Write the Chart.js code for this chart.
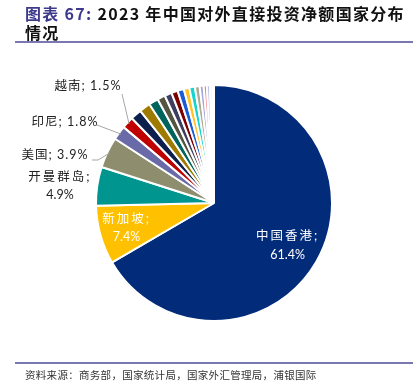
<!DOCTYPE html>
<html>
<head>
<meta charset="utf-8">
<script src="https://cdn.jsdelivr.net/npm/chart.js@4"></script>
<style>
  html, body { margin: 0; padding: 0; background: #fff; }
  body { width: 419px; height: 389px; position: relative; overflow: hidden;
         font-family: "Noto Sans CJK SC", "Noto Sans", sans-serif; }
  #chart { position: absolute; left: 0; top: 0; }
  .title { position: absolute; left: 25px; top: 4px; width: 385px; font-size: 16px; font-weight: bold;
           letter-spacing: 1.3px; line-height: 19px; color: #111; }
  .title .num { color: #3d3a8c; }
  .rule { position: absolute; left: 15px; width: 398px; height: 2px; background: #7a78b0; }
  .source { position: absolute; left: 25px; top: 367px; font-size: 10.5px; color: #333; letter-spacing: 0.3px; }
</style>
</head>
<body>
<canvas id="chart" width="419" height="389"></canvas>
<div class="title"><span class="num">图表 67:</span> 2023 年中国对外直接投资净额国家分布<br>情况</div>
<div class="rule" style="top:41px"></div>
<div class="rule" style="top:362px"></div>
<div class="source">资料来源：商务部，国家统计局，国家外汇管理局，浦银国际</div>

<script>
// ============================================================
// DATA
// ============================================================

const countries = [
  "中国香港", "新加坡", "开曼群岛", "美国", "印尼", "越南",
  "其他1", "其他2", "其他3", "其他4", "其他5", "其他6", "其他7", "其他8",
  "其他9", "其他10", "其他11", "其他12", "其他13", "其他14", "其他15"
];

const shares = [
  61.4, 7.4, 4.9, 3.9, 1.8, 1.5,
  1.4, 1.4, 1.2, 1.0, 0.9, 0.8, 0.8, 0.7,
  0.7, 0.6, 0.5, 0.4, 0.4, 0.3, 0.2
];

const sliceColors = [
  "#022b79", "#ffc000", "#00968f", "#8e8e6e", "#6a6aa8", "#c00000",
  "#0c1f4d", "#9e7a00", "#00645c", "#545441", "#3e3e63", "#7d0000", "#1a5cd8", "#ffc22a",
  "#14d4d0", "#abab95", "#a8a8d8", "#f08080", "#b8c4e8", "#c8c8e8", "#f3ddb0"
];

// labels shown on the chart (index -> text lines)
const labelText = {
  0: ["中国香港;", "61.4%"],
  1: ["新加坡;", "7.4%"],
  2: ["开曼群岛;", "4.9%"],
  3: ["美国; 3.9%"],
  4: ["印尼; 1.8%"],
  5: ["越南; 1.5%"]
};


// ============================================================
// LABEL PLUGIN
// ============================================================

const LABEL_FONT = '12.5px Lato, "Noto Sans CJK SC", sans-serif';

// inside labels sit on the slice's mid angle; outside labels use an anchor
// relative to the pie centre plus an optional leader line to the rim
const labelStyle = {
  0: { inside: true, frac: 0.72, color: "#fff" },
  1: { inside: true, frac: 0.77, color: "#fff" },
  2: { dx: -154, dy: -17, color: "#222" },
  3: { dx: -159, dy: -48, color: "#222", line: [[-122, -43], [-116, -43]] },
  4: { dx: -149, dy: -81, color: "#222", line: [[-117, -78]] },
  5: { dx: -126, dy: -117, color: "#222", line: [[-92, -109]] }
};

const pieLabels = {
  id: "pieLabels",
  afterDatasetsDraw(chart) {
    const ctx = chart.ctx;
    const arcs = chart.getDatasetMeta(0).data;

    ctx.save();
    ctx.font = LABEL_FONT;
    ctx.textAlign = "center";
    ctx.textBaseline = "middle";

    Object.keys(labelText).forEach(k => {
      const i = Number(k);
      const arc = arcs[i];
      const st = labelStyle[i];
      const lines = labelText[i];
      const cx = arc.x, cy = arc.y;
      const mid = (arc.startAngle + arc.endAngle) / 2;

      let tx, ty;
      if (st.inside) {
        const r = arc.outerRadius * st.frac;
        tx = cx + Math.cos(mid) * r;
        ty = cy + Math.sin(mid) * r;
      } else {
        tx = cx + st.dx;
        ty = cy + st.dy;
      }

      if (st.line) {
        const rimR = arc.outerRadius - 2;
        ctx.strokeStyle = "#a6a6a6";
        ctx.lineWidth = 1;
        ctx.beginPath();
        ctx.moveTo(cx + st.line[0][0], cy + st.line[0][1]);
        st.line.slice(1).forEach(p => ctx.lineTo(cx + p[0], cy + p[1]));
        ctx.lineTo(cx + Math.cos(mid) * rimR, cy + Math.sin(mid) * rimR);
        ctx.stroke();
      }

      ctx.fillStyle = st.color;
      const lh = 18.5;
      lines.forEach((t, j) => {
        // Chinese glyphs in the original are set wider than the digits
        ctx.letterSpacing = /[\u4e00-\u9fff]/.test(t) && !/\d/.test(t) ? "2px" : (/\d/.test(t) && /[\u4e00-\u9fff]/.test(t) ? "1px" : "0px");
        ctx.fillText(t, tx, ty + (j - (lines.length - 1) / 2) * lh);
      });
    });

    ctx.restore();
  }
};


// ============================================================
// CHART
// ============================================================

new Chart(document.getElementById("chart").getContext("2d"), {
  type: "pie",
  data: {
    labels: countries,
    datasets: [{
      data: shares,
      backgroundColor: sliceColors,
      borderColor: "#ffffff",
      borderWidth: 2
    }]
  },
  options: {
    responsive: false,
    animation: false,
    layout: { padding: { left: 95, right: 86, top: 84, bottom: 67 } },
    plugins: {
      legend: { display: false },
      tooltip: { enabled: false }
    }
  },
  plugins: [pieLabels]
});
</script>
</body>
</html>
